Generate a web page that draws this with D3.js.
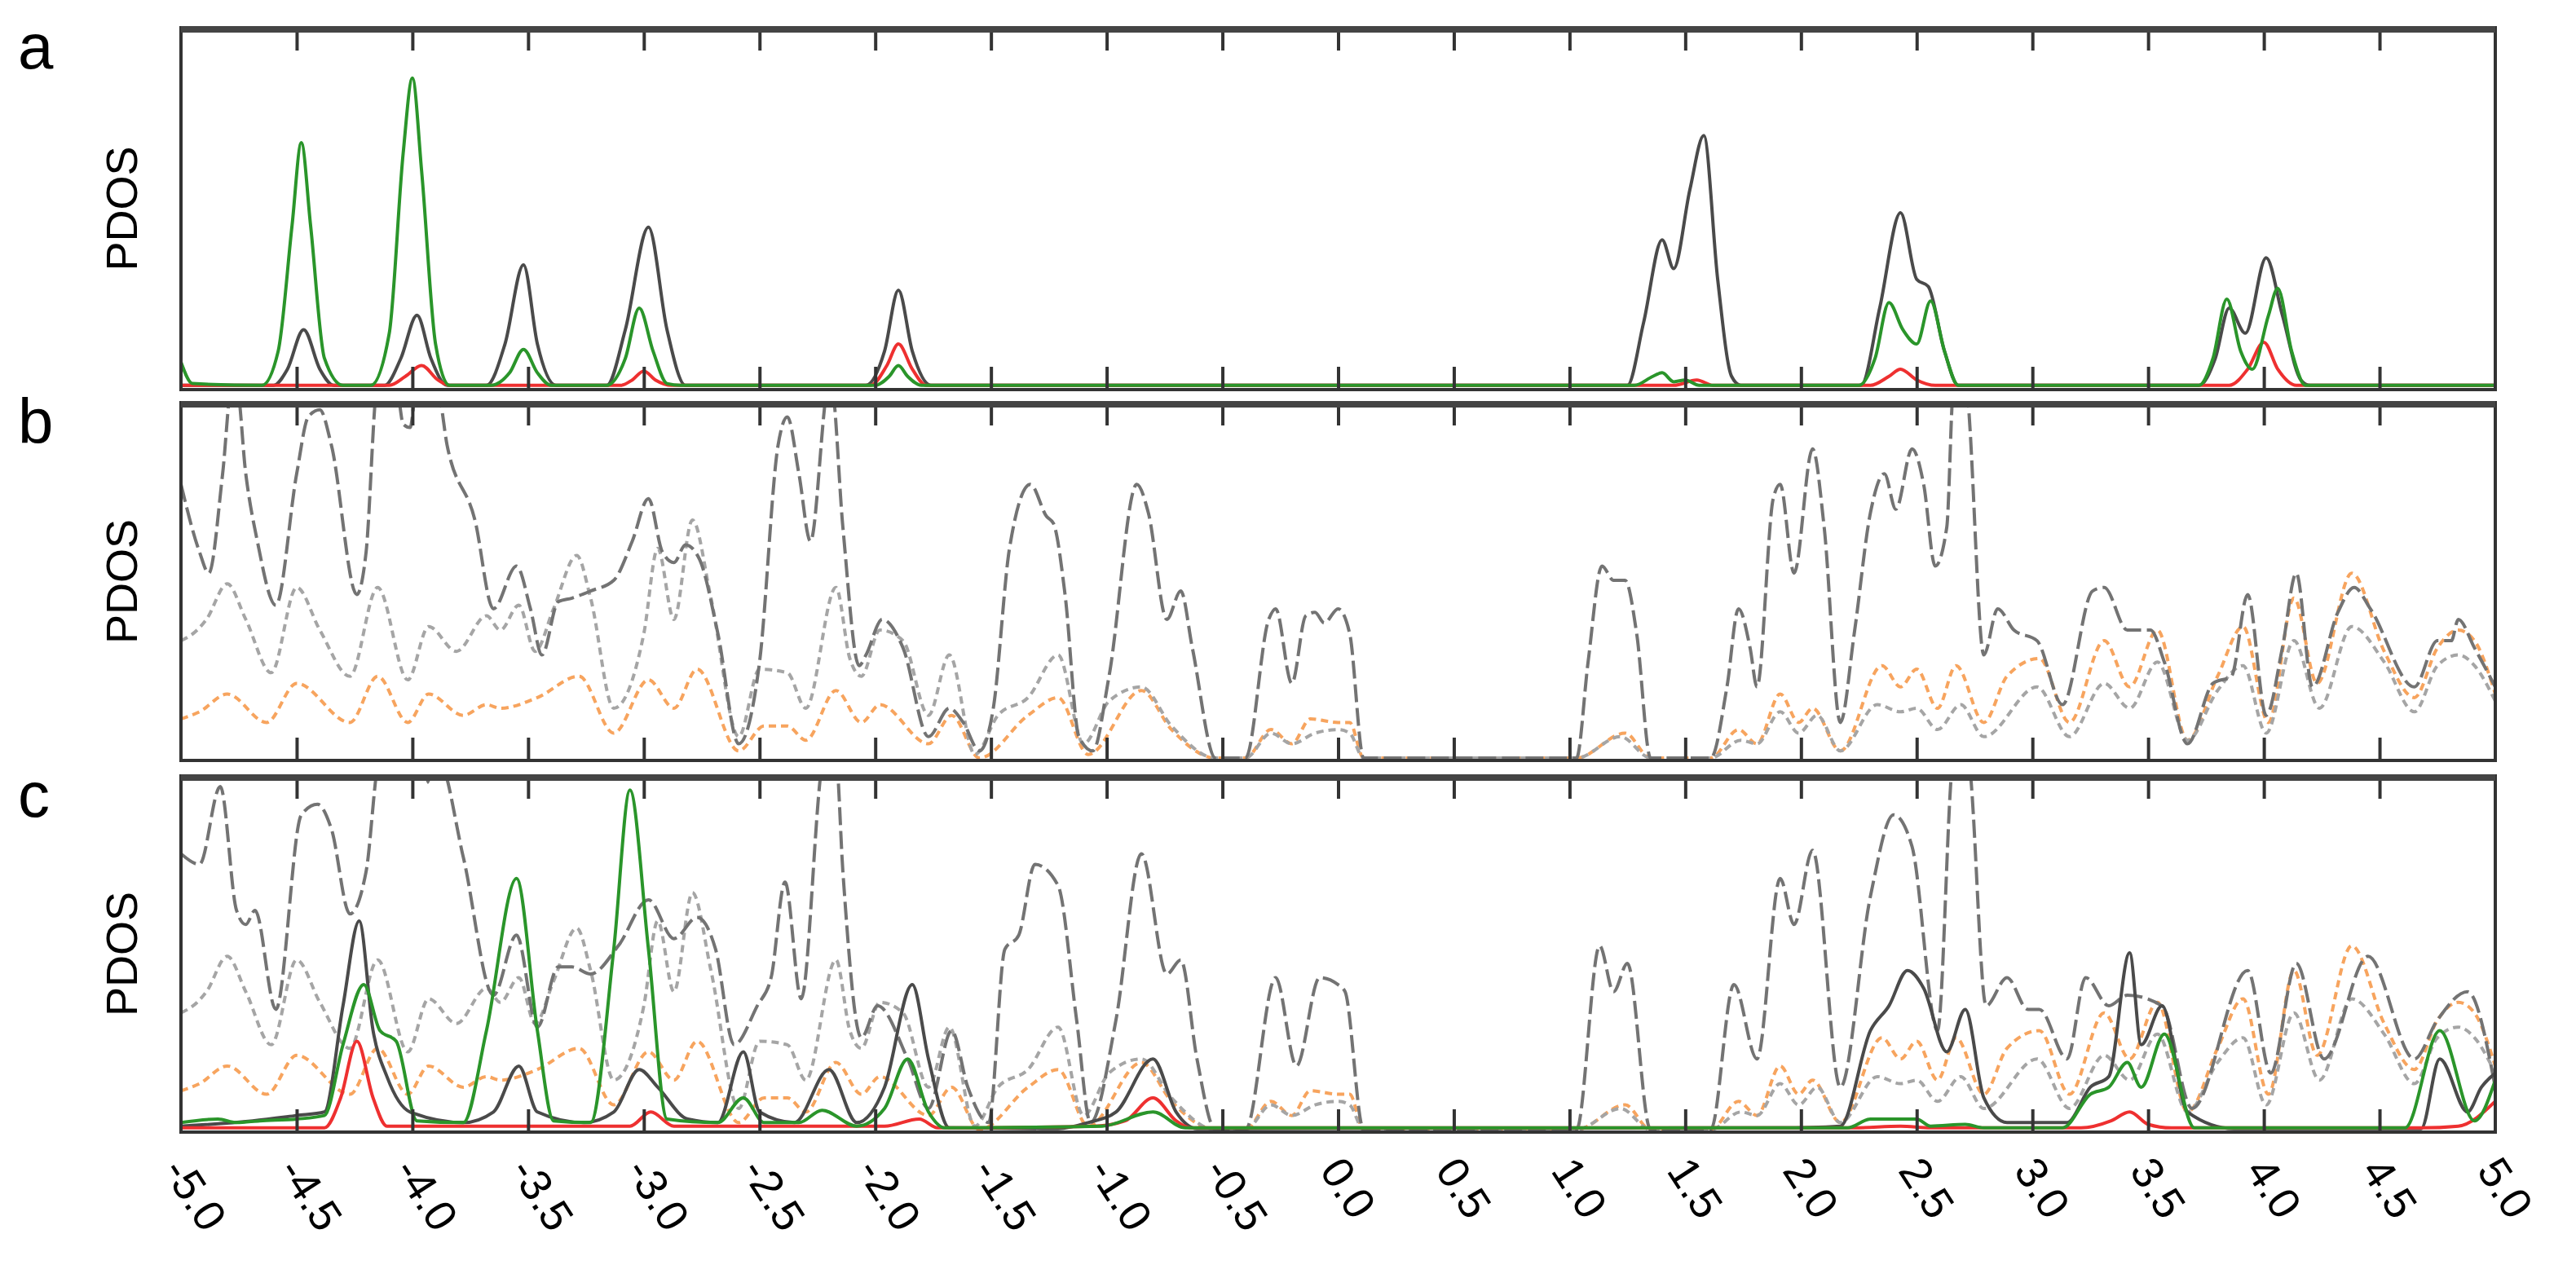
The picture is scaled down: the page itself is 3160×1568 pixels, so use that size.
<!DOCTYPE html>
<html><head><meta charset="utf-8">
<script src="https://cdn.jsdelivr.net/npm/d3@7"></script>
<style>body{margin:0;background:#fff}svg{display:block}</style>
</head><body>
<script>
// ---- data (energy, PDOS in arbitrary units, panel top = 100) ----
const xTicks = [-5.0,-4.5,-4.0,-3.5,-3.0,-2.5,-2.0,-1.5,-1.0,-0.5,0.0,0.5,1.0,1.5,2.0,2.5,3.0,3.5,4.0,4.5,5.0];
const panelLabels = ["a","b","c"];

const aGreen = [[-5,7],[-4.95,1],[-4.65,0.5],[-4.58,10],[-4.52,45],[-4.48,68],[-4.44,45],[-4.38,8],[-4.3,0.5],[-4.18,0.5],[-4.1,15],[-4.04,65],[-4.0,86],[-3.96,60],[-3.9,12],[-3.84,0.5],[-3.66,0.5],[-3.58,4],[-3.52,10.5],[-3.46,4],[-3.4,0.5],[-3.16,0.5],[-3.08,8],[-3.02,22],[-2.96,10],[-2.9,1],[-2.84,0.5],[-2.0,0.5],[-1.94,3],[-1.9,6],[-1.86,3],[-1.8,0.5],[1.28,0.5],[1.36,3],[1.4,4],[1.45,1.5],[1.5,2],[1.56,0.5],[2.25,0.5],[2.32,8],[2.38,23.5],[2.44,16],[2.5,12],[2.56,24],[2.62,10],[2.68,0.5],[3.72,0.5],[3.78,8],[3.84,24.5],[3.9,10],[3.95,5],[4.02,20],[4.06,27.5],[4.12,10],[4.18,0.5],[5,0.5]];
const aBlack = [[-5,0.5],[-4.6,0.5],[-4.54,5],[-4.47,16],[-4.4,5],[-4.34,0.5],[-4.12,0.5],[-4.05,8],[-3.98,20],[-3.92,8],[-3.85,0.5],[-3.68,0.5],[-3.6,12],[-3.52,34],[-3.46,12],[-3.38,0.5],[-3.16,0.5],[-3.08,16],[-2.98,44.5],[-2.9,16],[-2.82,0.5],[-2.04,0.5],[-1.96,10],[-1.9,27],[-1.84,10],[-1.76,0.5],[1.25,0.5],[1.32,18],[1.4,41],[1.45,33],[1.52,55],[1.58,70],[1.64,30],[1.7,3],[1.74,0.5],[2.26,0.5],[2.34,22],[2.43,48.5],[2.5,30],[2.55,28],[2.62,10],[2.68,0.5],[3.72,0.5],[3.79,8],[3.85,22],[3.92,15],[4.01,36],[4.08,20],[4.16,2],[4.2,0.5],[5,0.5]];
const aRed = [[-5,0.5],[-4.1,0.5],[-4.03,3],[-3.96,6],[-3.89,2],[-3.84,0.5],[-3.1,0.5],[-3.05,2],[-3.0,4.5],[-2.95,2],[-2.88,0.5],[-2.02,0.5],[-1.95,6],[-1.9,12],[-1.84,5],[-1.78,0.5],[1.45,0.5],[1.55,2],[1.62,0.5],[2.3,0.5],[2.38,3],[2.43,5],[2.5,2],[2.58,0.5],[3.85,0.5],[3.93,5],[4.0,12.5],[4.06,5],[4.14,0.5],[5,0.5]];

const bDash = [[-5,77],[-4.92,58],[-4.88,52],[-4.82,80],[-4.78,105],[-4.76,105],[-4.72,80],[-4.67,61],[-4.59,43],[-4.5,80],[-4.45,96],[-4.4,98],[-4.35,88],[-4.24,46],[-4.2,58],[-4.15,105],[-4.07,105],[-4.04,94],[-4.01,93],[-3.98,105],[-3.89,103],[-3.85,88],[-3.73,67],[-3.65,42],[-3.55,54],[-3.49,42],[-3.44,29],[-3.37,44],[-3.31,45],[-3.23,47],[-3.13,50],[-3.05,61],[-2.98,73],[-2.92,58],[-2.87,55],[-2.82,60],[-2.76,56],[-2.68,35],[-2.59,4],[-2.5,27],[-2.42,88],[-2.38,96],[-2.33,80],[-2.28,61],[-2.2,105],[-2.19,105],[-2.14,65],[-2.07,26],[-2.04,29],[-1.97,39],[-1.88,31],[-1.77,6],[-1.68,14],[-1.62,10],[-1.55,2],[-1.49,14],[-1.42,59],[-1.33,77],[-1.26,68],[-1.23,66],[-1.18,46],[-1.12,6],[-1.06,2],[-0.99,23],[-0.87,77],[-0.82,69],[-0.74,39],[-0.68,47],[-0.63,31],[-0.53,0],[-0.4,0],[-0.3,39],[-0.27,42],[-0.2,21],[-0.14,40],[-0.1,41],[-0.06,38],[0,42],[0.05,35],[0.11,0],[1.03,0],[1.08,27],[1.14,54],[1.19,50],[1.24,50],[1.29,35],[1.35,0],[1.61,0],[1.68,20],[1.73,42],[1.78,31],[1.81,20],[1.88,73],[1.91,77],[1.97,52],[2.05,87],[2.1,65],[2.17,10],[2.23,35],[2.3,69],[2.36,80],[2.41,70],[2.48,87],[2.53,77],[2.58,54],[2.63,65],[2.66,105],[2.71,105],[2.79,29],[2.85,42],[2.92,36],[3.02,33],[3.13,15],[3.26,47],[3.31,48],[3.41,36],[3.51,36],[3.57,27],[3.67,4],[3.78,21],[3.86,23],[3.93,46],[4.01,12],[4.08,31],[4.14,52],[4.21,20],[4.32,41],[4.39,48],[4.46,42],[4.65,20],[4.75,33],[4.81,33],[4.84,39],[4.91,31],[5,20]];
const bGray = [[-5,33],[-4.93,36],[-4.89,39],[-4.8,49],[-4.72,39],[-4.61,24],[-4.5,48],[-4.4,36],[-4.27,23],[-4.15,48],[-4.02,22],[-3.93,37],[-3.81,30],[-3.68,40],[-3.62,36],[-3.54,43],[-3.47,30],[-3.39,42],[-3.29,57],[-3.23,45],[-3.13,14],[-3.0,35],[-2.94,59],[-2.87,39],[-2.79,67],[-2.71,45],[-2.59,6],[-2.5,25],[-2.38,24],[-2.3,14],[-2.17,48],[-2.11,28],[-2.06,23],[-1.98,36],[-1.88,33],[-1.77,12],[-1.68,29],[-1.57,1],[-1.47,12],[-1.34,17],[-1.21,29],[-1.1,4],[-0.99,16],[-0.85,20],[-0.72,9],[-0.53,0],[-0.4,0],[-0.29,7],[-0.2,4],[-0.1,7],[0,8],[0.05,7],[0.11,0],[1.03,0],[1.22,6],[1.35,0],[1.61,0],[1.74,5],[1.81,4],[1.91,13],[1.99,7],[2.07,12],[2.17,2],[2.33,15],[2.43,13],[2.5,14],[2.59,8],[2.69,15],[2.79,6],[3.02,20],[3.16,6],[3.31,21],[3.42,14],[3.54,27],[3.67,5],[3.8,19],[3.91,26],[4.01,7],[4.13,33],[4.24,14],[4.38,37],[4.52,27],[4.65,13],[4.75,26],[4.84,29],[4.91,26],[5,16]];
const bOrange = [[-5,11],[-4.92,13],[-4.8,18],[-4.63,10],[-4.5,21],[-4.27,10],[-4.15,23],[-4.02,10],[-3.93,18],[-3.78,12],[-3.68,15],[-3.62,14],[-3.46,17],[-3.28,23],[-3.13,7],[-2.98,22],[-2.87,14],[-2.77,25],[-2.59,2],[-2.48,9],[-2.38,9],[-2.3,5],[-2.17,19],[-2.06,10],[-1.98,15],[-1.77,4],[-1.67,12],[-1.55,0],[-1.34,12],[-1.21,17],[-1.08,1],[-0.85,19],[-0.72,8],[-0.53,0],[-0.4,0],[-0.29,8],[-0.2,4],[-0.12,11],[0,10],[0.05,10],[0.11,0],[1.03,0],[1.24,7],[1.35,0],[1.61,0],[1.73,8],[1.81,4],[1.91,18],[1.99,10],[2.05,14],[2.17,2],[2.35,26],[2.43,20],[2.5,25],[2.59,14],[2.67,26],[2.79,10],[2.89,23],[3.03,28],[3.16,10],[3.31,33],[3.42,20],[3.54,36],[3.67,5],[3.8,23],[3.91,37],[4.02,10],[4.13,45],[4.23,21],[4.38,52],[4.52,30],[4.65,17],[4.75,31],[4.84,36],[4.91,33],[5,18]];

const cDash = [[-5,78],[-4.92,75],[-4.83,97],[-4.76,62],[-4.72,58],[-4.68,62],[-4.59,34],[-4.48,89],[-4.41,92],[-4.35,85],[-4.27,61],[-4.2,73],[-4.14,105],[-4.01,105],[-3.94,98],[-3.89,105],[-3.78,77],[-3.65,38],[-3.55,55],[-3.46,29],[-3.37,46],[-3.31,46],[-3.23,44],[-3.11,52],[-2.98,65],[-2.87,54],[-2.77,60],[-2.69,51],[-2.61,24],[-2.51,35],[-2.45,43],[-2.39,70],[-2.32,37],[-2.22,105],[-2.17,105],[-2.14,73],[-2.06,26],[-1.99,35],[-1.86,20],[-1.77,6],[-1.67,28],[-1.6,12],[-1.51,2],[-1.44,51],[-1.38,55],[-1.31,75],[-1.21,69],[-1.13,31],[-1.07,2],[-0.96,31],[-0.85,78],[-0.74,44],[-0.68,48],[-0.61,20],[-0.53,0],[-0.4,0],[-0.27,43],[-0.18,18],[-0.08,43],[0,41],[0.03,39],[0.11,0],[1.03,0],[1.13,52],[1.19,39],[1.25,47],[1.35,0],[1.61,0],[1.71,41],[1.81,20],[1.91,71],[1.97,58],[2.05,79],[2.17,12],[2.3,66],[2.4,89],[2.48,80],[2.59,28],[2.66,105],[2.72,105],[2.8,35],[2.89,43],[2.98,34],[3.03,34],[3.15,20],[3.23,43],[3.33,35],[3.41,38],[3.56,35],[3.69,6],[3.93,45],[4.03,16],[4.14,47],[4.26,20],[4.45,49],[4.65,20],[4.75,31],[4.88,39],[5,12]];
const cBlack = [[-5,1],[-4.69,2.5],[-4.5,4],[-4.38,5],[-4.3,35],[-4.23,59],[-4.17,28],[-4.11,15],[-4.01,5],[-3.78,2],[-3.65,5],[-3.54,18],[-3.46,5],[-3.26,2],[-3.13,5],[-3.02,17],[-2.94,12],[-2.81,3],[-2.68,2],[-2.57,22],[-2.5,5],[-2.35,2],[-2.2,17],[-2.08,2],[-1.96,12],[-1.84,41],[-1.77,20],[-1.68,0.5],[-1.21,0.3],[-1.08,2],[-0.96,5],[-0.8,20],[-0.7,5],[-0.61,0.3],[1.91,0.5],[2.17,1],[2.3,28],[2.38,35],[2.46,45],[2.53,40],[2.63,22],[2.71,34],[2.79,9],[2.89,2],[3.15,2],[3.25,12],[3.33,15],[3.42,50],[3.47,24],[3.56,35],[3.67,5],[3.87,0.3],[4.68,0.3],[4.76,20],[4.88,5],[4.94,12],[5,16]];
const cGreen = [[-5,2],[-4.84,3],[-4.76,2],[-4.66,2.5],[-4.5,3],[-4.38,4],[-4.3,24],[-4.21,41],[-4.14,28],[-4.07,25],[-3.98,2.5],[-3.78,2],[-3.68,28],[-3.55,71],[-3.46,28],[-3.39,2.5],[-3.23,2],[-3.13,51],[-3.06,96],[-2.98,51],[-2.9,3],[-2.68,2],[-2.57,9],[-2.48,2],[-2.33,2],[-2.23,5.5],[-2.08,1],[-1.96,6],[-1.86,20],[-1.77,5],[-1.7,0.5],[-1.02,1],[-0.8,5],[-0.66,0.5],[2.2,0.5],[2.3,3],[2.5,3],[2.56,1],[2.71,1.5],[2.79,0.5],[3.13,0.5],[3.25,10],[3.33,12],[3.41,19],[3.47,12],[3.57,27],[3.7,0.5],[4.61,0.5],[4.76,28],[4.91,2.5],[5,14]];
const cRed = [[-5,0.5],[-4.38,0.5],[-4.31,9],[-4.24,25],[-4.17,9],[-4.11,1],[-3.06,1],[-2.97,5],[-2.87,1],[-1.96,1],[-1.81,3],[-1.73,0.5],[-1.05,1],[-0.92,2.5],[-0.8,9],[-0.7,2.5],[-0.64,0.5],[2.23,0.5],[2.43,1],[2.56,0.5],[3.21,0.5],[3.34,2.5],[3.42,5],[3.5,1.5],[3.6,0.5],[4.68,0.5],[4.84,1],[5,8]];

// ---- layout ----
const W = 3160, H = 1568;
const L = 222, R = 3061;
const panels = [
  {label:"a", top:34,  bot:478, series:[
    {d:aBlack, c:"#4a4a4a", w:4, dash:null},
    {d:aRed, c:"#ee3030", w:4, dash:null},
    {d:aGreen, c:"#2a952a", w:4, dash:null}]},
  {label:"b", top:494, bot:933, series:[
    {d:bOrange, c:"#f7a45e", w:4, dash:"9,6"},
    {d:bGray, c:"#a5a5a5", w:4, dash:"9,6"},
    {d:bDash, c:"#737373", w:4, dash:"22,7"}]},
  {label:"c", top:952, bot:1389, series:[
    {d:bOrange, c:"#f7a45e", w:4, dash:"9,6"},
    {d:bGray, c:"#a5a5a5", w:4, dash:"9,6"},
    {d:cDash, c:"#737373", w:4, dash:"22,7"},
    {d:cBlack, c:"#4a4a4a", w:4, dash:null},
    {d:cRed, c:"#ee3030", w:4, dash:null},
    {d:cGreen, c:"#2a952a", w:4, dash:null}]}
];

const svg = d3.select("body").append("svg").attr("width",W).attr("height",H)
  .style("font-family","'Liberation Sans', Arial, sans-serif");
const x = d3.scaleLinear().domain([-5,5]).range([L,R]);
const defs = svg.append("defs");

panels.forEach((p,i)=>{
  const y = d3.scaleLinear().domain([0,100]).range([p.bot-3,p.top]);
  defs.append("clipPath").attr("id","clip"+i).append("rect")
    .attr("x",L).attr("y",p.top).attr("width",R-L).attr("height",p.bot-p.top);
  const g = svg.append("g").attr("clip-path","url(#clip"+i+")");
  const line = d3.line().x(d=>x(d[0])).y(d=>y(d[1])).curve(d3.curveMonotoneX);
  p.series.forEach(s=>{
    g.append("path").datum(s.d).attr("d",line).attr("fill","none")
      .attr("stroke",s.c).attr("stroke-width",s.w).attr("stroke-linejoin","round")
      .attr("stroke-dasharray",s.dash);
  });
  const inner = xTicks.slice(1,-1);
  svg.append("g").attr("transform",`translate(0,${p.top})`)
    .call(d3.axisBottom(x).tickValues(inner).tickSize(28).tickFormat(""))
    .call(a=>a.select(".domain").remove())
    .selectAll("line").attr("stroke","#333").attr("stroke-width",4);
  svg.append("g").attr("transform",`translate(0,${p.bot})`)
    .call(d3.axisTop(x).tickValues(inner).tickSize(28).tickFormat(""))
    .call(a=>a.select(".domain").remove())
    .selectAll("line").attr("stroke","#333").attr("stroke-width",4);
  svg.append("rect").attr("x",L).attr("y",p.top).attr("width",R-L).attr("height",p.bot-p.top)
    .attr("fill","none").attr("stroke","#333").attr("stroke-width",4);
  svg.append("line").attr("x1",L).attr("x2",R).attr("y1",p.top+2).attr("y2",p.top+2)
    .attr("stroke","#444").attr("stroke-width",8);
  svg.append("text").attr("x",22).attr("y",p.top+50).attr("font-size",78).text(p.label);
  svg.append("text").attr("transform",`translate(168,${(p.top+p.bot)/2}) rotate(-90)`)
    .attr("text-anchor","middle").attr("font-size",54).text("PDOS");
});

svg.append("g").selectAll("text").data(xTicks).join("text")
  .attr("transform",d=>`translate(${x(d)-8},1426) rotate(57)`)
  .attr("font-size",54).attr("dy","0.35em")
  .text(d=>d.toFixed(1));
</script>
</body></html>
